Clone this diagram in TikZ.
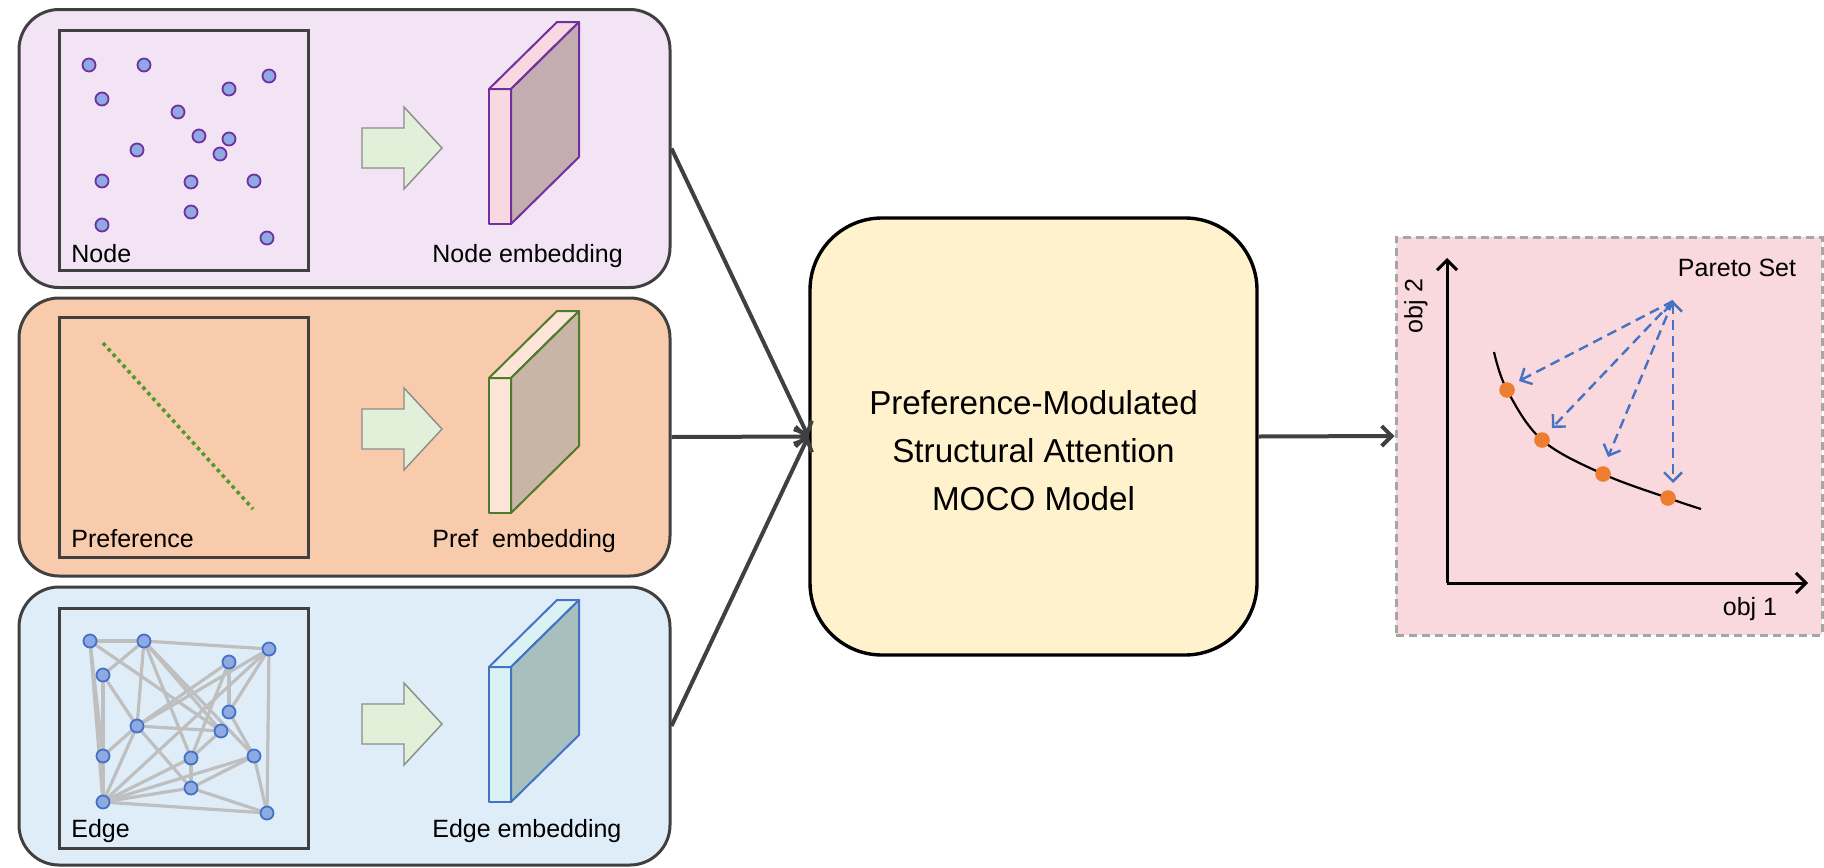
\documentclass[tikz,border=0pt]{standalone}
\usepackage{fontspec}
\setmainfont{Liberation Sans}
\usetikzlibrary{arrows.meta}
\definecolor{pnlborder}{HTML}{404040}
\definecolor{pnlA}{HTML}{F2E4F4}
\definecolor{pnlB}{HTML}{F8CBAD}
\definecolor{pnlC}{HTML}{DFEDF9}
\definecolor{centerfill}{HTML}{FFF2CC}
\definecolor{rightfill}{HTML}{F9D8DE}
\definecolor{rightborder}{HTML}{A6A6A6}
\definecolor{bigarrowfill}{HTML}{E2F0D9}
\definecolor{bigarrowdraw}{HTML}{8C8C8C}
\definecolor{dotfill}{HTML}{8FA9E3}
\definecolor{dotpurple}{HTML}{7030A0}
\definecolor{dotblue}{HTML}{4472C4}
\definecolor{edgegray}{HTML}{BFBFBF}
\definecolor{prefgreen}{HTML}{4E9A2E}
\definecolor{slabAfront}{HTML}{F8D9E1}
\definecolor{slabAside}{HTML}{C5ACB0}
\definecolor{slabBfront}{HTML}{FCE4D6}
\definecolor{slabBside}{HTML}{C9B5A6}
\definecolor{slabBborder}{HTML}{4F7A2C}
\definecolor{slabCfront}{HTML}{DAF2F3}
\definecolor{slabCside}{HTML}{A7C0BE}
\definecolor{conngray}{HTML}{404040}
\definecolor{paretoorange}{HTML}{ED7D31}
\definecolor{dashblue}{HTML}{4472C4}
\newcommand\slabshape[5]{%
  \filldraw[draw=#3, fill=#4, line width=1pt, line join=round] (#1,#2) rectangle (#1+22,#2+135);
  \filldraw[draw=#3, fill=#4, line width=1pt, line join=round] (#1,#2) -- (#1+22,#2) -- (#1+90,#2-67) -- (#1+68,#2-67) -- cycle;
  \filldraw[draw=#3, fill=#5, line width=1pt, line join=round] (#1+22,#2) -- (#1+90,#2-67) -- (#1+90,#2+68) -- (#1+22,#2+135) -- cycle;
}
\newcommand\fatarrow[1]{%
  \filldraw[bigarrow] (362,#1-20) -- (404,#1-20) -- (404,#1-41) -- (442,#1) -- (404,#1+41) -- (404,#1+20) -- (362,#1+20) -- cycle;
}
\begin{document}
\begin{tikzpicture}[x=0.5pt,y=-0.5pt,
  panel/.style={draw=pnlborder, line width=1.5pt, rounded corners=20pt, minimum width=325.5pt, minimum height=139pt, inner sep=0pt},
  innersq/.style={draw=pnlborder, line width=1.5pt, minimum width=124.5pt, minimum height=120pt, inner sep=0pt},
  ndot/.style={circle, fill=dotfill, line width=0.9pt, minimum size=6.5pt, inner sep=0pt},
  gedge/.style={draw=edgegray, line width=1.6pt},
  bigarrow/.style={fill=bigarrowfill, draw=bigarrowdraw, line width=0.7pt, line join=miter},
  lbl/.style={font=\fontsize{12.5}{15}\selectfont, anchor=base west, inner sep=0pt},
  conn/.style={draw=conngray, line width=2pt, -{Straight Barb[length=5pt,width=10pt,line width=2pt]}},
  axis/.style={draw=black, line width=1.5pt, -{Straight Barb[length=5pt,width=10pt,line width=1.5pt]}},
  pdash/.style={draw=dashblue, line width=1.2pt, dash pattern=on 5pt off 3pt, -{Straight Barb[length=4.5pt,width=9pt,line width=1.2pt]}},
  pdot/.style={circle, fill=paretoorange, minimum size=7.8pt, inner sep=0pt}
]
\useasboundingbox (0,0) rectangle (1824,867);

% ---------- panels ----------
\node[panel, fill=pnlA] (p1) at (344.5,148.5) {};
\node[panel, fill=pnlB] (p2) at (344.5,437) {};
\node[panel, fill=pnlC] (p3) at (344.5,726) {};

\node[innersq] (s1) at (183.5,150.5) {};
\node[innersq] (s2) at (183.5,437.5) {};
\node[innersq] (s3) at (183.5,728) {};

% ---------- panel 1: nodes ----------
\foreach \i/\x/\y in {1/89/65,2/144/65,3/269/76,4/229/89,5/102/99,6/178/112,7/199/136,8/229/139,
                      9/220/154,10/137/150,11/102/181,12/191/182,13/254/181,14/191/212,15/102/225,16/267/238}
  \node[ndot, draw=dotpurple] (n\i) at (\x,\y) {};
\node[lbl] (l1) at (71,262) {Node};

% ---------- panel 2: preference ----------
\coordinate (pa) at (103,343);
\coordinate (pb) at (253,509);
\draw[prefgreen, line width=1.8pt, dash pattern=on 1.8pt off 1.9pt] (pa) -- (pb);
\node[lbl] (l2) at (71,547) {Preference};

% ---------- panel 3: edges ----------
\coordinate (A) at (90,641);
\coordinate (B) at (144,641);
\coordinate (C) at (269,649);
\coordinate (D) at (229,662);
\coordinate (E) at (103,675);
\coordinate (F) at (229,712);
\coordinate (G) at (137,726);
\coordinate (H) at (221,731);
\coordinate (I) at (103,756);
\coordinate (J) at (191,758);
\coordinate (K) at (254,756);
\coordinate (L) at (191,788);
\coordinate (M) at (103,802);
\coordinate (N) at (267,813);
\foreach \u/\v in {A/B,B/C,A/I,A/M,E/I,I/M,A/H,B/E,B/G,B/J,B/H,B/K,C/G,C/M,C/N,C/F,
                   D/G,D/F,D/J,F/K,G/H,G/E,G/I,G/M,G/L,H/J,K/N,L/M,L/N,L/K,J/L,J/M,K/M,M/N}
  \draw[gedge] (\u) -- (\v);
\foreach \p in {A,B,C,D,E,F,G,H,I,J,K,L,M,N}
  \node[ndot, draw=dotblue] (g\p) at (\p) {};
\node[lbl] (l3) at (71,837) {Edge};

% ---------- fat arrows ----------
\fatarrow{148}
\fatarrow{429}
\fatarrow{724}

% ---------- embedding slabs ----------
\slabshape{489}{89}{dotpurple}{slabAfront}{slabAside}
\slabshape{489}{378}{slabBborder}{slabBfront}{slabBside}
\slabshape{489}{667}{dotblue}{slabCfront}{slabCside}

\node[lbl] (e1) at (432,262) {Node embedding};
\node[lbl] (e2) at (432,547) {Pref\ \ embedding};
\node[lbl] (e3) at (432,837) {Edge embedding};

% ---------- center model ----------
\node[draw=black, line width=1.7pt, fill=centerfill, rounded corners=36pt,
      minimum width=223.5pt, minimum height=218.5pt, inner sep=0pt] (m) at (1033.5,436.5) {};
\node[font=\fontsize{16.6}{24}\selectfont, align=center] (mt) at (1033.5,451)
  {Preference-Modulated\\Structural Attention\\MOCO Model};

% ---------- right box ----------
\node[draw=rightborder, fill=rightfill, line width=1.5pt, dash pattern=on 4pt off 2.5pt,
      minimum width=213pt, minimum height=199pt, inner sep=0pt] (r) at (1609,436) {};

% ---------- connectors ----------
\draw[conn] (p1.east) -- (m.west);
\draw[conn] (p2.east) -- (m.west);
\draw[conn] (p3.east) -- (m.west);
\draw[conn] (m.east) -- (r.west);

% ---------- pareto plot ----------
\coordinate (o) at (1447,583);
\coordinate (ytop) at (1447,258);
\coordinate (xend) at (1808,583);
\draw[axis] (o) -- (ytop);
\draw[axis] (o) -- (xend);
\draw[black, line width=1.1pt] plot[smooth, tension=0.6] coordinates
  {(1494,352) (1507,390) (1542,440) (1603,474) (1668,498) (1701,509)};
\node[pdot] (d1) at (1507,390) {};
\node[pdot] (d2) at (1542,440) {};
\node[pdot] (d3) at (1603,474) {};
\node[pdot] (d4) at (1668,498) {};
\coordinate (src) at (1673,301);
\coordinate (t1) at (1519,381);
\coordinate (t2) at (1552,428);
\coordinate (t3) at (1608,457);
\coordinate (t4) at (1673,483);
\draw[pdash] (src) -- (t1);
\draw[pdash] (src) -- (t2);
\draw[pdash] (src) -- (t3);
\draw[pdash, {Straight Barb[length=4.5pt,width=9pt,line width=1.2pt]}-{Straight Barb[length=4.5pt,width=9pt,line width=1.2pt]}] (src) -- (t4);

\node[font=\fontsize{12.5}{15}\selectfont, anchor=base, inner sep=0pt] (ps) at (1737,276) {Pareto Set};
\node[font=\fontsize{12.5}{15}\selectfont, anchor=base, inner sep=0pt] (ox) at (1750,615) {obj 1};
\node[font=\fontsize{12.5}{15}\selectfont, rotate=90, inner sep=0pt] (oy) at (1416,306) {obj 2};
\end{tikzpicture}
\end{document}
